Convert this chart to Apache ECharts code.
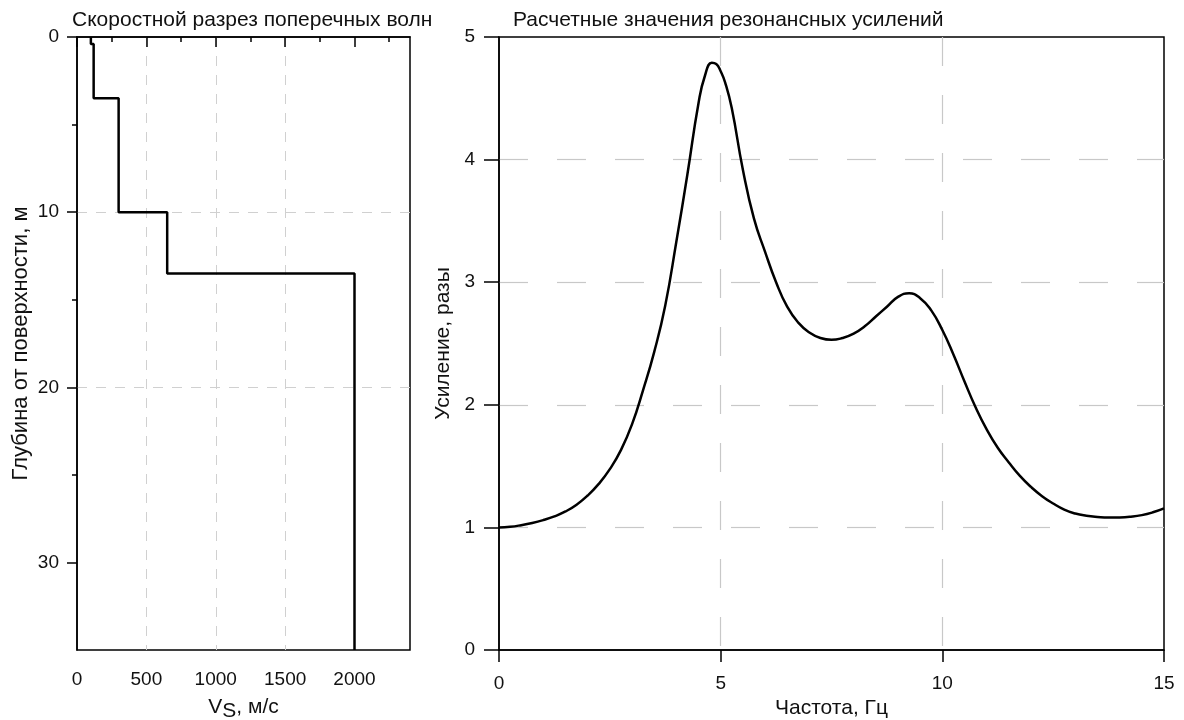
<!DOCTYPE html>
<html>
<head>
<meta charset="utf-8">
<script src="https://cdn.jsdelivr.net/npm/echarts@6/dist/echarts.min.js"></script>
<style>
  html, body { margin: 0; padding: 0; background: #fff; }
  #chart { width: 1184px; height: 720px; }
</style>
</head>
<body>
<div id="chart"></div>
<script>
// Shear-wave velocity profile: layer boundaries (m) and layer velocities (m/s)
const layerBounds = [0, 0.4, 3.5, 10, 13.5, 35];
const layerVs = [100, 120, 300, 650, 2000];
const vsMajorTicks = [0, 500, 1000, 1500, 2000];
const vsMinorTicks = [250, 750, 1250, 1750, 2250];
const depthMajorTicks = [0, 10, 20, 30];
const depthMinorTicks = [5, 15, 25];

// Computed resonance amplification vs frequency (denser around the main peak)
const freq = [0, 0.25, 0.5, 0.75, 1.0, 1.25, 1.5, 1.75, 2.0, 2.25, 2.5, 2.75, 3.0, 3.25, 3.5, 3.75,
  4.0, 4.25, 4.5, 4.65, 4.8, 4.9, 5.0, 5.1, 5.25, 5.5, 5.75, 6.0, 6.25, 6.5, 6.75, 7.0, 7.25, 7.5, 7.75,
  8.0, 8.25, 8.5, 8.75, 9.0, 9.25, 9.5, 9.75, 10.0, 10.25, 10.5, 10.75, 11.0, 11.25, 11.5, 11.75,
  12.0, 12.25, 12.5, 12.75, 13.0, 13.25, 13.5, 13.75, 14.0, 14.25, 14.5, 14.75, 15.0];
const gain = [1.0, 1.005, 1.018, 1.036, 1.06, 1.09, 1.13, 1.185, 1.26, 1.355, 1.475, 1.63, 1.84, 2.12, 2.43, 2.81,
  3.33, 3.88, 4.46, 4.69, 4.79, 4.78, 4.72, 4.63, 4.42, 3.92, 3.52, 3.25, 3.0, 2.8, 2.67, 2.59, 2.545, 2.53, 2.545,
  2.58, 2.64, 2.72, 2.8, 2.88, 2.91, 2.87, 2.77, 2.61, 2.41, 2.19, 1.98, 1.8, 1.65, 1.53, 1.42,
  1.33, 1.255, 1.195, 1.145, 1.113, 1.095, 1.085, 1.08, 1.081, 1.087, 1.1, 1.123, 1.155];

// Step outline of the velocity profile
const profile = [];
layerVs.forEach((v, i) => {
  profile.push([v, layerBounds[i]]);
  profile.push([v, layerBounds[i + 1]]);
});
const curve = freq.map((f, i) => [f, gain[i]]);

const FONT = "'Liberation Sans', Arial, sans-serif";
const INK = '#111';
const tickTxt = { color: INK, fontFamily: FONT, fontSize: 19 };
const nameTxt = { color: INK, fontFamily: FONT, fontSize: 21 };
const plain = v => String(v);
const axisLineStyle = { lineStyle: { color: '#000', width: 1.5 } };
const leftGridLines = { show: true, showMinLine: false, showMaxLine: false, lineStyle: { color: '#d0d0d0', type: [10, 9], width: 1 } };
const rightGridLines = { show: true, showMinLine: false, showMaxLine: false, lineStyle: { color: '#c8c8c8', type: [29, 29], width: 1.2 } };

const chart = echarts.init(document.getElementById('chart'), null, { renderer: 'canvas' });
chart.setOption({
  backgroundColor: '#fff',
  animation: false,
  title: [
    { text: 'Скоростной разрез поперечных волн', left: 72, top: 10, padding: 0, textStyle: Object.assign({ fontWeight: 'normal' }, nameTxt) },
    { text: 'Расчетные значения резонансных усилений', left: 513, top: 10, padding: 0, textStyle: Object.assign({ fontWeight: 'normal' }, nameTxt) }
  ],
  grid: [
    { left: 77, top: 37, width: 333, height: 613, outerBoundsMode: 'none', containLabel: false, show: true, borderColor: '#000', borderWidth: 1.5, backgroundColor: 'transparent' },
    { left: 499, top: 37, width: 665, height: 613, outerBoundsMode: 'none', containLabel: false, show: true, borderColor: '#000', borderWidth: 1.5, backgroundColor: 'transparent' }
  ],
  xAxis: [
    {
      gridIndex: 0, type: 'value', position: 'bottom', min: 0, max: 2400, interval: 500,
      name: '{v|V}{s|S}{v|, м/с}', nameLocation: 'middle', nameGap: 42,
      nameTextStyle: { rich: { v: Object.assign({}, nameTxt), s: Object.assign({ padding: [9, 0, 0, 0] }, nameTxt) } },
      axisLine: axisLineStyle,
      axisTick: { length: 10, lineStyle: { color: '#000', width: 1.5 }, customValues: vsMajorTicks },
      axisLabel: Object.assign({ margin: 20, customValues: vsMajorTicks, formatter: plain }, tickTxt),
      splitLine: leftGridLines
    },
    {
      gridIndex: 0, type: 'value', position: 'bottom', min: 0, max: 2400,
      axisLine: { show: false },
      axisTick: { length: 5, lineStyle: { color: '#000', width: 1.5 }, customValues: vsMinorTicks },
      axisLabel: { show: false },
      splitLine: { show: false }
    },
    {
      gridIndex: 1, type: 'value', min: 0, max: 15, interval: 5,
      name: 'Частота, Гц', nameLocation: 'middle', nameGap: 48, nameTextStyle: nameTxt,
      axisLine: axisLineStyle,
      axisTick: { length: 12, lineStyle: { color: '#000', width: 1.5 } },
      axisLabel: Object.assign({ margin: 24, formatter: plain }, tickTxt),
      splitLine: rightGridLines
    }
  ],
  yAxis: [
    {
      gridIndex: 0, type: 'value', position: 'left', inverse: true, min: 0, max: 35, interval: 10,
      name: 'Глубина от поверхности, м', nameLocation: 'middle', nameGap: 45, nameTextStyle: Object.assign({}, nameTxt, { fontSize: 22 }),
      axisLine: axisLineStyle,
      axisTick: { length: 10, lineStyle: { color: '#000', width: 1.5 }, customValues: depthMajorTicks },
      axisLabel: Object.assign({ margin: 18, customValues: depthMajorTicks, formatter: plain }, tickTxt),
      splitLine: leftGridLines
    },
    {
      gridIndex: 0, type: 'value', position: 'left', inverse: true, min: 0, max: 35,
      axisLine: { show: false },
      axisTick: { length: 5, lineStyle: { color: '#000', width: 1.5 }, customValues: depthMinorTicks },
      axisLabel: { show: false },
      splitLine: { show: false }
    },
    {
      gridIndex: 1, type: 'value', min: 0, max: 5, interval: 1,
      name: 'Усиление, разы', nameLocation: 'middle', nameGap: 41, nameTextStyle: nameTxt,
      axisLine: axisLineStyle,
      axisTick: { length: 15, lineStyle: { color: '#000', width: 1.5 } },
      axisLabel: Object.assign({ margin: 24, formatter: plain }, tickTxt),
      splitLine: rightGridLines
    }
  ],
  series: [
    {
      type: 'line', xAxisIndex: 0, yAxisIndex: 0, data: profile,
      symbol: 'none', lineStyle: { color: '#000', width: 2.5 }
    },
    {
      type: 'line', xAxisIndex: 2, yAxisIndex: 2, data: curve,
      smooth: 0.5,
      symbol: 'none', lineStyle: { color: '#000', width: 2.5 }
    }
  ]
});
</script>
</body>
</html>
